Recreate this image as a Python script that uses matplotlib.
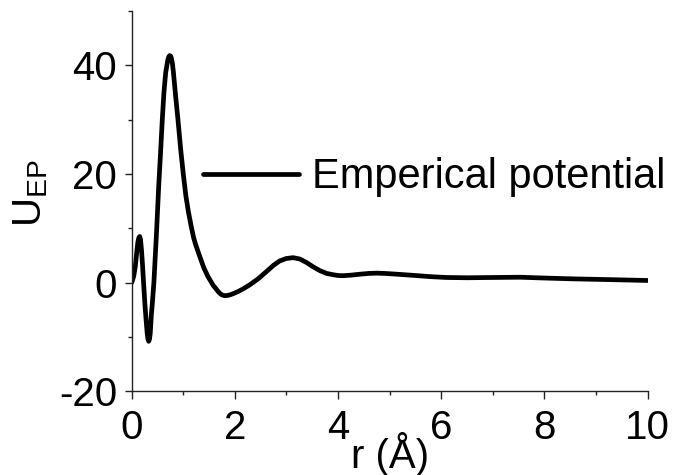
import matplotlib
matplotlib.use("Agg")
import matplotlib.pyplot as plt
from matplotlib.ticker import MultipleLocator

plt.rcParams['font.family'] = ['Liberation Sans', 'DejaVu Sans']
plt.rcParams['mathtext.default'] = 'regular'
plt.rcParams['axes.unicode_minus'] = False

# empirical potential U_EP(r)
r = [0.0, 0.04, 0.07, 0.10, 0.12, 0.14, 0.155, 0.17, 0.19, 0.21, 0.23,
     0.255, 0.28, 0.30, 0.315, 0.33, 0.345, 0.36, 0.38, 0.40, 0.43, 0.48,
     0.523, 0.56, 0.593, 0.625, 0.658, 0.70, 0.72, 0.736, 0.755, 0.77, 0.79,
     0.81, 0.85, 0.897, 0.95, 1.0, 1.05, 1.1, 1.155, 1.2, 1.24, 1.32, 1.40,
     1.48, 1.58, 1.64, 1.70, 1.75, 1.80, 1.86, 1.92, 2.0, 2.06, 2.15, 2.29,
     2.45, 2.62, 2.75, 2.87, 3.0, 3.13, 3.26, 3.39, 3.52, 3.65, 3.78, 3.91,
     4.0, 4.10, 4.25, 4.42, 4.6, 4.75, 4.9, 5.07, 5.3, 5.52, 5.8, 6.10, 6.5,
     7.0, 7.53, 8.0, 8.55, 9.3, 10.0]
u_ep = [0.0, 1.2, 3.0, 5.8, 7.5, 8.3, 8.5, 8.0, 6.0, 3.2, 0.0,
        -3.8, -7.0, -9.3, -10.4, -10.8, -10.4, -9.3, -6.0, -3.8, 0.0, 9.0,
        17.7, 24.0, 30.0, 35.0, 38.6, 41.0, 41.6, 41.8, 41.7, 41.3, 40.3,
        38.6, 34.5, 30.0, 24.5, 20.0, 16.0, 13.0, 10.3, 8.3, 7.0, 4.8, 2.7,
        1.1, -0.5, -1.2, -1.9, -2.25, -2.4, -2.35, -2.2, -1.9, -1.65, -1.2, -0.4,
        0.7, 2.1, 3.2, 4.0, 4.45, 4.6, 4.35, 3.7, 2.9, 2.2, 1.7, 1.45,
        1.32, 1.28, 1.38, 1.55, 1.7, 1.75, 1.7, 1.6, 1.45, 1.3, 1.1, 0.95, 0.9,
        0.95, 1.0, 0.85, 0.7, 0.55, 0.4]

fs = 29

fig = plt.figure(figsize=(6.74, 4.75), dpi=100)
ax = fig.add_axes([0.1954, 0.1762, 0.7653, 0.8006])

ax.plot(r, u_ep, color='black', lw=3.4, solid_joinstyle='round',
        solid_capstyle='round', label='Emperical potential')

ax.set_xlim(0, 10)
ax.set_ylim(-20, 50)
ax.xaxis.set_major_locator(MultipleLocator(2))
ax.xaxis.set_minor_locator(MultipleLocator(1))
ax.yaxis.set_major_locator(MultipleLocator(20))
ax.yaxis.set_minor_locator(MultipleLocator(10))

for side in ('top', 'right'):
    ax.spines[side].set_visible(False)
for side in ('left', 'bottom'):
    ax.spines[side].set_linewidth(1.0)
    ax.spines[side].set_color('#222222')

ax.tick_params(which='major', direction='out', length=5.4, width=1.0,
               color='#222222', labelsize=fs)
ax.tick_params(which='minor', direction='out', length=2.6, width=1.0,
               color='#222222')
ax.tick_params(axis='x', which='major', pad=7)
ax.tick_params(axis='y', which='major', pad=5)

ax.set_xlabel('r (Å)', fontsize=fs, va='baseline')
ax.xaxis.set_label_coords(0.5, -0.2017)
ax.set_ylabel('$U_{EP}$', fontsize=fs, va='center', ha='center')
ax.yaxis.set_label_coords((31 - 131.7) / 515.8, (391.3 - 193.5) / 380.3)

ax.legend(loc='center left', bbox_to_anchor=(203.3 / 674, 1 - 177.3 / 475),
          bbox_transform=fig.transFigure, frameon=False, fontsize=30,
          handlelength=2.3, handletextpad=0.32, borderpad=0, borderaxespad=0)

fig.savefig('out.png', dpi=100)
